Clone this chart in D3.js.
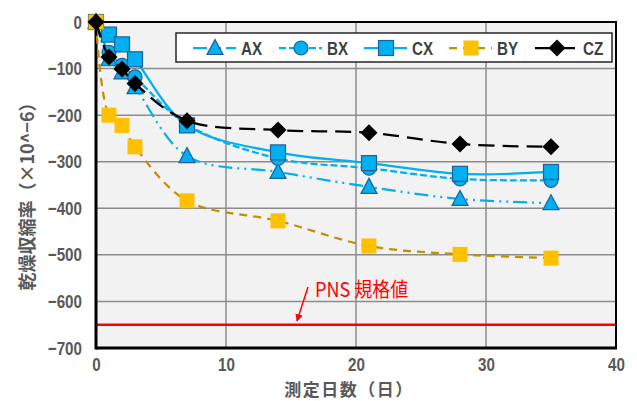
<!DOCTYPE html>
<html>
<head>
<meta charset="utf-8">
<script src="https://cdn.jsdelivr.net/npm/d3@7"></script>
<style>
  html, body { margin: 0; padding: 0; background: #ffffff; }
  svg { display: block; }
  .num { font-family: "Liberation Sans", "Arial", sans-serif; font-weight: bold; }
  .jp { font-family: "Noto Sans CJK JP", sans-serif; font-weight: bold; }
</style>
</head>
<body>
<svg id="chart" width="637" height="401"></svg>
<script>
// Measurement days and drying shrinkage (×10^-6) per mix
const days = [0, 1, 2, 3, 7, 14, 21, 28, 35];
const seriesNames = ["AX", "BX", "CX", "BY", "CZ"];
const AX = [0, -80, -108, -140, -288, -322, -354, -380, -389];
const BX = [0, -65, -93, -118, -220, -293, -314, -337, -340];
const CX = [0, -27, -48, -80, -222, -280, -303, -326, -322];
const BY = [0, -200, -222, -268, -384, -427, -481, -499, -507];
const CZ = [0, -75, -101, -132, -212, -232, -238, -262, -268];
const xTicks = [0, 10, 20, 30, 40];
const yTicks = [0, -100, -200, -300, -400, -500, -600, -700];
const specLimit = -650;
const specLabel = "PNS 規格値";
const xTitle = "測定日数（日）";
const yTitle = "乾燥収縮率（×10^−6）";

const seriesValues = { AX, BX, CX, BY, CZ };

// Appearance of each series
const styles = {
  AX: { line: "#00b0f0", dash: "14,5,2,5,2,5", marker: "triangle", fill: "#00b0f0", stroke: "#1f5f99" },
  BX: { line: "#00b0f0", dash: "7,3", marker: "circle", fill: "#00b0f0", stroke: "#1f5f99" },
  CX: { line: "#00b0f0", dash: null, marker: "square", fill: "#00b0f0", stroke: "#1f5f99" },
  BY: { line: "#bf9000", dash: "8,6", marker: "square", fill: "#ffc000", stroke: "none" },
  CZ: { line: "#000000", dash: "16,8", marker: "diamond", fill: "#000000", stroke: "none" }
};

// horizontal squeeze applied to Latin labels for a condensed look
const SQ = 0.8;

const svg = d3.select("#chart");
const plot = { left: 96, top: 22, right: 616, bottom: 348 };

const x = d3.scaleLinear().domain([0, 40]).range([plot.left, plot.right]);
const y = d3.scaleLinear().domain([0, -700]).range([plot.top, plot.bottom]);

// plot background
svg.append("rect")
  .attr("x", plot.left).attr("y", plot.top)
  .attr("width", plot.right - plot.left).attr("height", plot.bottom - plot.top)
  .attr("fill", "#f2f2f2");

// gridlines
const grid = svg.append("g").attr("stroke", "#8c8c8c").attr("stroke-width", 1.5);
grid.selectAll("line.h").data(yTicks.filter(v => v !== 0 && v !== -700)).join("line")
  .attr("x1", plot.left).attr("x2", plot.right)
  .attr("y1", d => y(d)).attr("y2", d => y(d));
grid.selectAll("line.v").data(xTicks.filter(v => v !== 0 && v !== 40)).join("line")
  .attr("y1", plot.top).attr("y2", plot.bottom)
  .attr("x1", d => x(d)).attr("x2", d => x(d));

// specification limit line
svg.append("line")
  .attr("x1", plot.left).attr("x2", plot.right)
  .attr("y1", y(specLimit)).attr("y2", y(specLimit))
  .attr("stroke", "#ff0000").attr("stroke-width", 2.5);

// axes (tick labels only; the frame supplies the axis lines)
const yAxis = d3.axisLeft(y).tickValues(yTicks).tickSize(0).tickPadding(14)
  .tickFormat(d => d === 0 ? "0" : "−" + Math.abs(d));
const gy = svg.append("g").attr("transform", `translate(${plot.left},0)`).call(yAxis);
gy.select(".domain").remove();
gy.selectAll("text").attr("class", "num").attr("font-size", 19).attr("fill", "#595959")
  .attr("x", -14 / SQ).attr("transform", `scale(${SQ},1)`);

const xAxis = d3.axisBottom(x).tickValues(xTicks).tickSize(0).tickFormat(d3.format("d"));
const gx = svg.append("g").attr("transform", `translate(0,${plot.bottom})`).call(xAxis);
gx.select(".domain").remove();
gx.selectAll("text").attr("class", "num").attr("font-size", 19).attr("fill", "#595959")
  .attr("y", 23.5).attr("dy", null).attr("transform", `scale(${SQ},1)`);

// plot frame
svg.append("rect")
  .attr("x", plot.left).attr("y", plot.top)
  .attr("width", plot.right - plot.left).attr("height", plot.bottom - plot.top)
  .attr("fill", "none").attr("stroke", "#000").attr("stroke-width", 2);
svg.append("line").attr("x1", plot.left).attr("x2", plot.left)
  .attr("y1", plot.top - 1).attr("y2", plot.bottom + 1.5)
  .attr("stroke", "#000").attr("stroke-width", 3);
svg.append("line").attr("x1", plot.left).attr("x2", plot.right + 1)
  .attr("y1", plot.bottom).attr("y2", plot.bottom)
  .attr("stroke", "#000").attr("stroke-width", 3);

// marker symbols
function drawMarker(g, kind, cx, cy, st) {
  let el;
  if (kind === "square") {
    el = g.append("rect").attr("x", cx - 7.5).attr("y", cy - 7.5).attr("width", 15).attr("height", 15);
  } else if (kind === "circle") {
    el = g.append("circle").attr("cx", cx).attr("cy", cy).attr("r", 7);
  } else if (kind === "triangle") {
    el = g.append("path").attr("d", `M${cx},${cy - 8.5}L${cx + 8},${cy + 6.5}L${cx - 8},${cy + 6.5}Z`);
  } else {
    el = g.append("path").attr("d", `M${cx},${cy - 8.5}L${cx + 8.5},${cy}L${cx},${cy + 8.5}L${cx - 8.5},${cy}Z`);
  }
  el.attr("fill", st.fill).attr("stroke", st.stroke).attr("stroke-width", st.stroke === "none" ? 0 : 1.2);
  return el;
}

const lineGen = d3.line().x(d => x(d[0])).y(d => y(d[1])).curve(d3.curveCatmullRom.alpha(0.5));

seriesNames.forEach(name => {
  const st = styles[name];
  const pts = days.map((d, i) => [d, seriesValues[name][i]]);
  const g = svg.append("g");
  g.append("path").attr("d", lineGen(pts))
    .attr("fill", "none").attr("stroke", st.line).attr("stroke-width", 2.25)
    .attr("stroke-dasharray", st.dash);
  pts.forEach(p => drawMarker(g, st.marker, x(p[0]), y(p[1]), st));
});

// legend
const legend = svg.append("g");
legend.append("rect").attr("x", 176).attr("y", 33).attr("width", 436).attr("height", 29)
  .attr("fill", "#ffffff").attr("stroke", "#262626").attr("stroke-width", 1.5);
const legendX = [193, 279, 364, 449, 535];
seriesNames.forEach((name, i) => {
  const st = styles[name];
  const lx = legendX[i], ly = 48;
  legend.append("line").attr("x1", lx).attr("x2", lx + 43).attr("y1", ly).attr("y2", ly)
    .attr("stroke", st.line).attr("stroke-width", 2.25).attr("stroke-dasharray", st.dash);
  drawMarker(legend, st.marker, lx + 22, ly, st);
  legend.append("text").attr("class", "num")
    .attr("transform", `translate(${lx + 48},${ly}) scale(${SQ},1)`)
    .attr("dominant-baseline", "central").attr("font-size", 19).attr("fill", "#404040")
    .text(name);
});

// specification label with arrow
svg.append("defs").append("marker").attr("id", "arrowhead")
  .attr("viewBox", "0 0 10 10").attr("refX", 9).attr("refY", 5)
  .attr("markerWidth", 5).attr("markerHeight", 5).attr("orient", "auto")
  .append("path").attr("d", "M0,0L10,5L0,10Z").attr("fill", "#ff0000");
svg.append("line").attr("x1", 308).attr("y1", 287).attr("x2", 297).attr("y2", 321)
  .attr("stroke", "#ff0000").attr("stroke-width", 1.5).attr("marker-end", "url(#arrowhead)");
svg.append("text")
  .attr("transform", `translate(315,288) scale(0.9,1)`)
  .attr("dominant-baseline", "central")
  .style("font-family", "'Noto Sans CJK JP', sans-serif").style("font-weight", "normal")
  .style("font-size", "20px").attr("fill", "#ff0000").text(specLabel);

// axis titles
svg.append("text").attr("class", "jp").attr("x", 349).attr("y", 395.5)
  .attr("text-anchor", "middle").attr("letter-spacing", 1.5)
  .attr("font-size", 17).attr("fill", "#595959").text(xTitle);
svg.append("text").attr("class", "jp")
  .attr("transform", "translate(26,192) rotate(-90)")
  .attr("text-anchor", "middle").attr("dominant-baseline", "central")
  .attr("font-size", 18).attr("fill", "#595959").text(yTitle);
</script>
</body>
</html>
